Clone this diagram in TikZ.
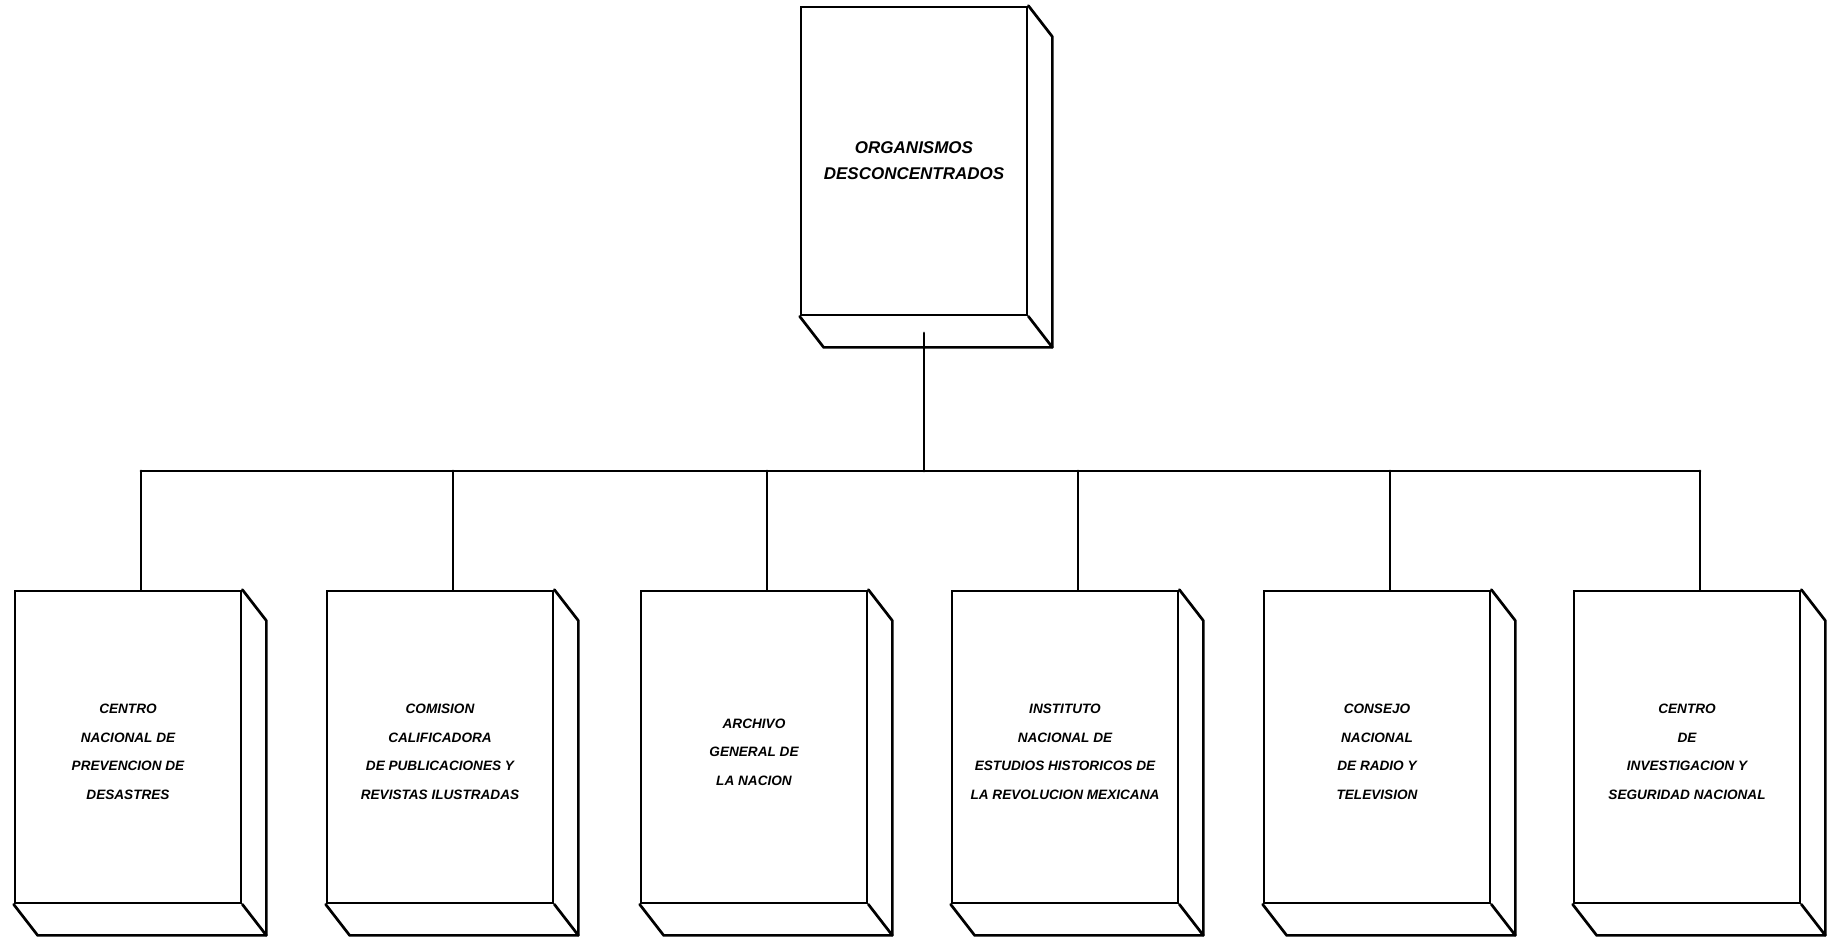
\documentclass[tikz,border=0pt]{standalone}
\usepackage{fontspec}
\setmainfont{Liberation Sans}
\usetikzlibrary{calc}
\tikzset{
  face/.style={draw, line width=2.7pt, minimum width=226pt, minimum height=312pt,
    inner sep=0pt, fill=white},
  topface/.style={face, minimum height=308pt, align=center,
    font=\bfseries\itshape\fontsize{17}{26}\selectfont},
  facetext/.style={inner sep=0pt, align=center,
    font=\bfseries\itshape\fontsize{13.6}{28.5}\selectfont},
  edge/.style={line width=2.7pt, line join=round, line cap=round},
}
\newcommand\boxsides[1]{%
  \draw[edge] (#1.north east) -- ++(24,31) -- ($(#1.south east)+(24,31)$)
     -- ($(#1.south west)+(24,31)$) -- (#1.south west);
  \draw[edge] (#1.south east) -- ++(24,31);
}
\newcommand\orgbox[4]{% name, x, text, unused
  \node[face] (#1) at (#2,747) {};
  \node[facetext] (#1t) at ($(#1.center)+(0,5)$) {#3};
  \boxsides{#1}
}
\begin{document}
\begin{tikzpicture}[x=1pt,y=-1pt]
\useasboundingbox (0,0) rectangle (1832,939);

% top box
\node[topface] (top) at (914,161) {ORGANISMOS\\DESCONCENTRADOS};
\boxsides{top}

% bottom boxes
\orgbox{b1}{128}{CENTRO\\NACIONAL DE\\PREVENCION DE\\DESASTRES}{}
\orgbox{b2}{440}{COMISION\\CALIFICADORA\\DE PUBLICACIONES Y\\REVISTAS ILUSTRADAS}{}
\orgbox{b3}{754}{ARCHIVO\\GENERAL DE\\LA NACION}{}
\orgbox{b4}{1065}{INSTITUTO\\NACIONAL DE\\ESTUDIOS HISTORICOS DE\\LA REVOLUCION MEXICANA}{}
\orgbox{b5}{1377}{CONSEJO\\NACIONAL\\DE RADIO Y\\TELEVISION}{}
\orgbox{b6}{1687}{CENTRO\\DE\\INVESTIGACION Y\\SEGURIDAD NACIONAL}{}

% connectors
\coordinate (topc) at (924,333);
\coordinate (bus) at (924,471);
\foreach \n in {1,...,6}{\coordinate (c\n) at ($(b\n.north)+(13,0)$);}
\draw[edge] (topc) -- (bus);
\draw[edge] (c1 |- bus) -- (c6 |- bus);
\foreach \n in {1,...,6}{\draw[edge] (c\n |- bus) -- (c\n);}
\end{tikzpicture}
\end{document}
